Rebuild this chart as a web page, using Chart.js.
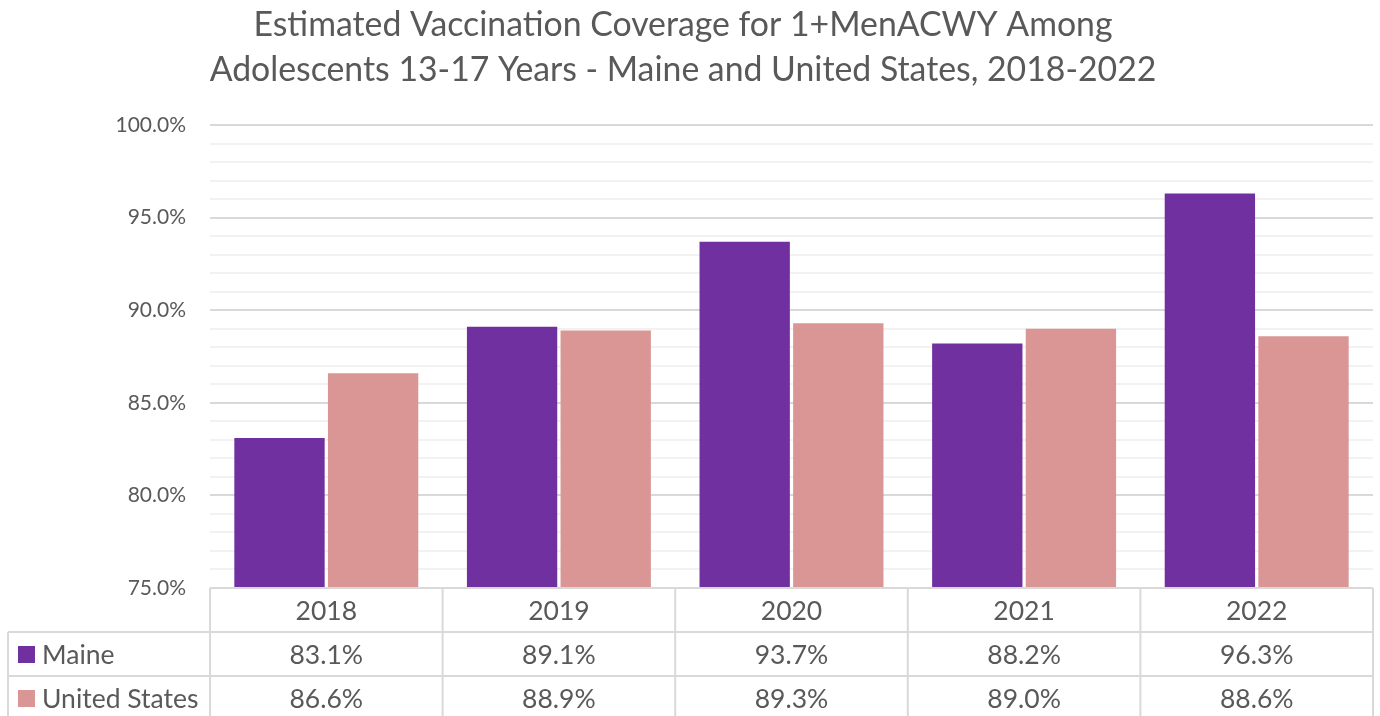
<!DOCTYPE html>
<html>
<head>
<meta charset="utf-8">
<script src="https://cdn.jsdelivr.net/npm/chart.js@4"></script>
<style>
  body { margin: 0; background: #fff; }
  #wrap { width: 1380px; height: 716px; }
</style>
</head>
<body>
<div id="wrap"><canvas id="vaxChart" width="1380" height="716"></canvas></div>
<script>
const years = ["2018", "2019", "2020", "2021", "2022"];
const maineVals = [83.1, 89.1, 93.7, 88.2, 96.3];
const usVals = [86.6, 88.9, 89.3, 89.0, 88.6];
const seriesNames = ["Maine", "United States"];
const titleLines = ["Estimated Vaccination Coverage for 1+MenACWY Among",
                    "Adolescents 13-17 Years - Maine and United States, 2018-2022"];

const maineColour = "#7030A0";
const usColour = "#DA9694";
const textColour = "#595959";
const lineColour = "#d9d9d9";
const fontFam = "Lato, 'Open Sans', sans-serif";

// draws the title and the data table under the bars
const tablePlugin = {
  id: "dataTable",
  afterDraw(chart) {
    const ctx = chart.ctx;
    const x = chart.scales.x;
    const area = chart.chartArea;
    const n = years.length;
    const half = (x.getPixelForValue(1) - x.getPixelForValue(0)) / 2;
    const left = x.getPixelForValue(0) - half;
    const right = x.getPixelForValue(n - 1) + half;
    const top = area.bottom;
    const rowH = 44;
    const tableLeft = 8;

    ctx.save();
    // title
    ctx.fillStyle = textColour;
    ctx.font = "33.8px " + fontFam;
    ctx.textAlign = "center";
    ctx.textBaseline = "middle";
    ctx.fillText(titleLines[0], 683, 25);
    ctx.fillText(titleLines[1], 683, 70);

    ctx.strokeStyle = lineColour;
    ctx.lineWidth = 2;
    ctx.beginPath();
    // header top
    ctx.moveTo(left, top); ctx.lineTo(right, top);
    // row lines
    for (let r = 1; r <= 2; r++) {
      ctx.moveTo(tableLeft, top + rowH * r); ctx.lineTo(right, top + rowH * r);
    }
    // column lines
    for (let i = 0; i <= n; i++) {
      const cx = left + half * 2 * i;
      ctx.moveTo(cx, top); ctx.lineTo(cx, chart.height);
    }
    ctx.moveTo(tableLeft, top + rowH); ctx.lineTo(tableLeft, chart.height);
    ctx.stroke();

    ctx.font = "26.5px " + fontFam;
    ctx.fillStyle = textColour;
    ctx.textAlign = "center";
    years.forEach((y, i) => {
      const cx = x.getPixelForValue(i);
      ctx.fillText(y, cx, top + rowH / 2 + 1);
      ctx.fillText(maineVals[i].toFixed(1) + "%", cx, top + rowH * 1.5 + 1);
      ctx.fillText(usVals[i].toFixed(1) + "%", cx, top + rowH * 2.5 + 1);
    });

    // legend keys in first column
    const cols = [maineColour, usColour];
    ctx.textAlign = "left";
    seriesNames.forEach((s, r) => {
      const cy = top + rowH * (1.5 + r);
      ctx.fillStyle = cols[r];
      ctx.fillRect(18, cy - 8, 17, 17);
      ctx.fillStyle = textColour;
      ctx.fillText(s, 42, cy + 1);
    });
    ctx.restore();
  }
};

new Chart("vaxChart", {
  type: "bar",
  data: {
    labels: years,
    datasets: [
      { label: seriesNames[0], data: maineVals, backgroundColor: maineColour,
        categoryPercentage: 0.805, barPercentage: 0.965 },
      { label: seriesNames[1], data: usVals, backgroundColor: usColour,
        categoryPercentage: 0.805, barPercentage: 0.965 }
    ]
  },
  options: {
    responsive: false,
    animation: false,
    layout: { padding: { top: 125, bottom: 128, left: 8, right: 7 } },
    plugins: {
      legend: { display: false },
      title: { display: false },
      tooltip: { enabled: false }
    },
    scales: {
      x: { display: false },
      y: {
        min: 75,
        max: 100,
        border: { display: false },
        afterFit(scale) { scale.width = 202; },
        ticks: {
          stepSize: 1,
          autoSkip: false,
          padding: 24,
          color: textColour,
          font: { size: 21, family: fontFam },
          callback: function(v) { return v % 5 === 0 ? v.toFixed(1) + "%" : ""; }
        },
        grid: {
          drawTicks: false,
          lineWidth: 2,
          color: function(c) { return c.tick && c.tick.value % 5 === 0 ? "#d9d9d9" : "#f2f2f2"; }
        }
      }
    }
  },
  plugins: [tablePlugin]
});
</script>
</body>
</html>
